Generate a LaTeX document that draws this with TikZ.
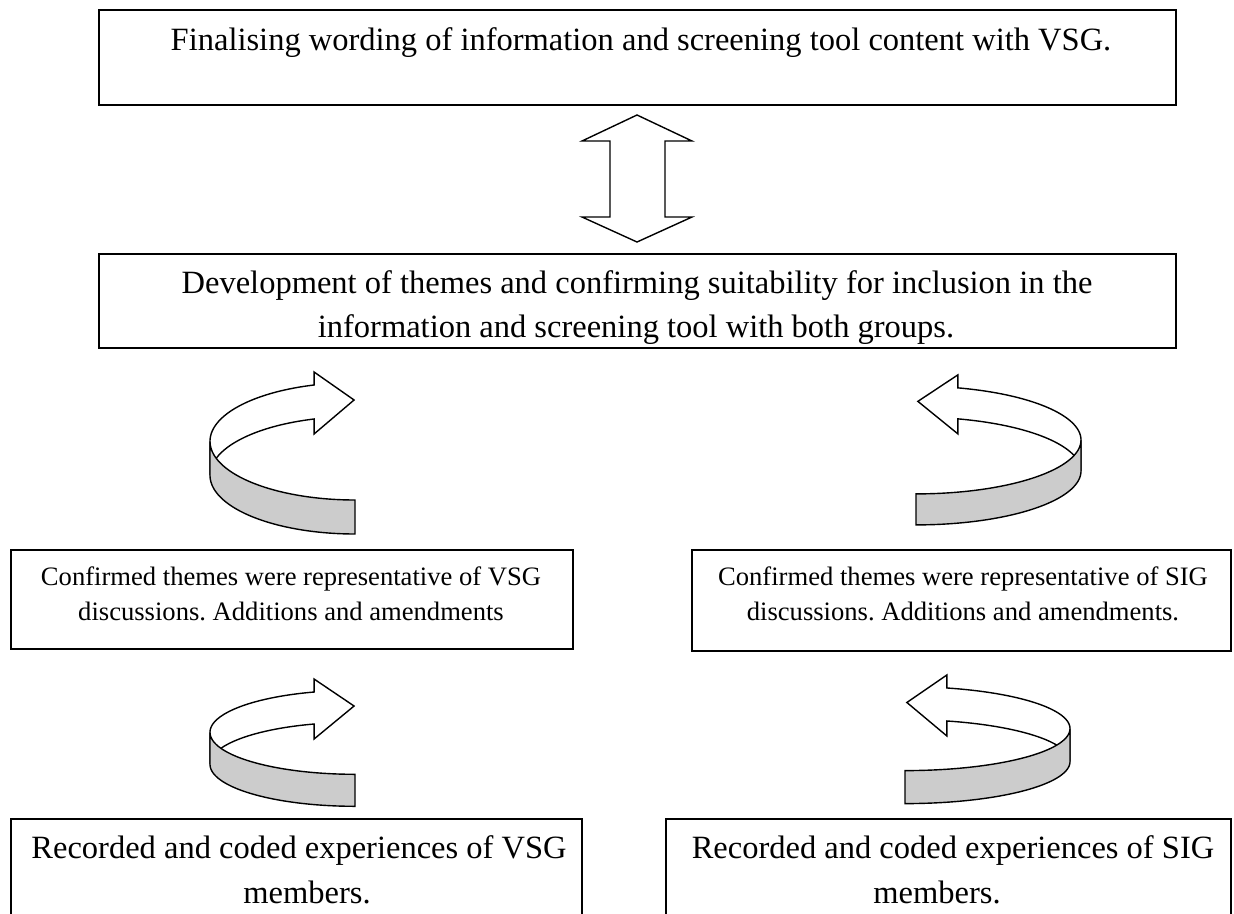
\documentclass[tikz,border=0pt]{standalone}
\usepackage{fontspec}
\setmainfont{Liberation Serif}
\frenchspacing

% Curved 3-D ribbon arrow: #1,#2 centre of the ellipse, #3,#4 radii,
% #5 ribbon height, #6 angle where the head sits, #7 = 1 (head right) or -1 (head left)
\newcommand{\ribbonarrow}[7]{%
  \pgfmathsetmacro\rhx{#3*cos(#6)}%
  \pgfmathsetmacro\rhya{-#4*sin(#6)}%
  \pgfmathsetmacro\rhyb{\rhya+#5}%
  \pgfmathsetmacro\rhym{(\rhya+\rhyb)/2-2}%
  \begin{scope}[shift={(#1,#2)}, xscale=#7]
    % back (inner, white) part with the head
    \filldraw[ribbonline, fill=white]
      plot[domain=180:#6, samples=60] ({#3*cos(\x)}, {-#4*sin(\x)})
      -- (\rhx, \rhya-13) -- (\rhx+40, \rhym) -- (\rhx, \rhyb+15) -- (\rhx, \rhyb)
      -- plot[domain=#6:180, samples=60] ({#3*cos(\x)}, {-#4*sin(\x)+#5}) -- cycle;
    % front (outer, shaded) part with the tail
    \filldraw[ribbonline, fill=black!20]
      plot[domain=180:270, samples=60] ({#3*cos(\x)}, {-#4*sin(\x)})
      -- (0, #4+#5)
      -- plot[domain=270:180, samples=60] ({#3*cos(\x)}, {-#4*sin(\x)+#5}) -- cycle;
  \end{scope}}

\begin{document}
\begin{tikzpicture}[x=1pt, y=-1pt,
  box/.style={draw=black, line width=1.8pt, rectangle, inner sep=0pt, anchor=north west},
  ribbonline/.style={draw=black, line width=1.4pt, line join=miter},
  bigtxt/.style={font=\fontsize{32.5}{39}\selectfont, inner sep=0pt, anchor=base},
  smalltxt/.style={font=\fontsize{26.6}{32}\selectfont, inner sep=0pt, anchor=base}]

\useasboundingbox (0,0) rectangle (1234,913);
\clip (0,0) rectangle (1234,913);
\fill[white] (0,0) rectangle (1234,913);

% boxes
\node[box, minimum width=1077pt, minimum height=95pt] (topbox) at (98,9) {};
\node[box, minimum width=1077pt, minimum height=94pt] (devbox) at (98,253) {};
\node[box, minimum width=562pt, minimum height=99pt] (vsgconf) at (10,549) {};
\node[box, minimum width=539pt, minimum height=101pt] (sigconf) at (691,549) {};
\node[box, minimum width=571pt, minimum height=120pt] (vsgrec) at (10,818) {};
\node[box, minimum width=565pt, minimum height=120pt] (sigrec) at (665,818) {};

% texts
\node[bigtxt] (toptxt) at (641,50) {Finalising wording of information and screening tool content with VSG.};
\node[bigtxt] (devtxta) at (637,293) {Development of themes and confirming suitability for inclusion in the};
\node[bigtxt] (devtxtb) at (636,337) {information and screening tool with both groups.};
\node[smalltxt] (vsgconfa) at (291,585) {Confirmed themes were representative of VSG};
\node[smalltxt] (vsgconfb) at (291,620) {discussions. Additions and amendments};
\node[smalltxt] (sigconfa) at (963,585) {Confirmed themes were representative of SIG};
\node[smalltxt] (sigconfb) at (963,620) {discussions. Additions and amendments.};
\node[bigtxt] (vsgreca) at (299,858) {Recorded and coded experiences of VSG};
\node[bigtxt] (vsgrecb) at (307,903) {members.};
\node[bigtxt] (sigreca) at (953,858) {Recorded and coded experiences of SIG};
\node[bigtxt] (sigrecb) at (937,903) {members.};

% up-down block arrow between the two wide boxes
\draw[ribbonline, fill=white] (637,115) -- (692,141) -- (665,141) -- (665,217)
  -- (692,217) -- (637,242) -- (582,217) -- (610,217) -- (610,141) -- (582,141) -- cycle;

% curved arrows
\ribbonarrow{355}{441.3}{145}{58.7}{34}{106.4}{1}
\ribbonarrow{916}{440}{165}{53.9}{31}{104.7}{-1}
\ribbonarrow{355}{732.3}{145}{42}{32}{106.4}{1}
\ribbonarrow{905}{728.6}{165}{42}{33}{104.7}{-1}

\end{tikzpicture}
\end{document}
